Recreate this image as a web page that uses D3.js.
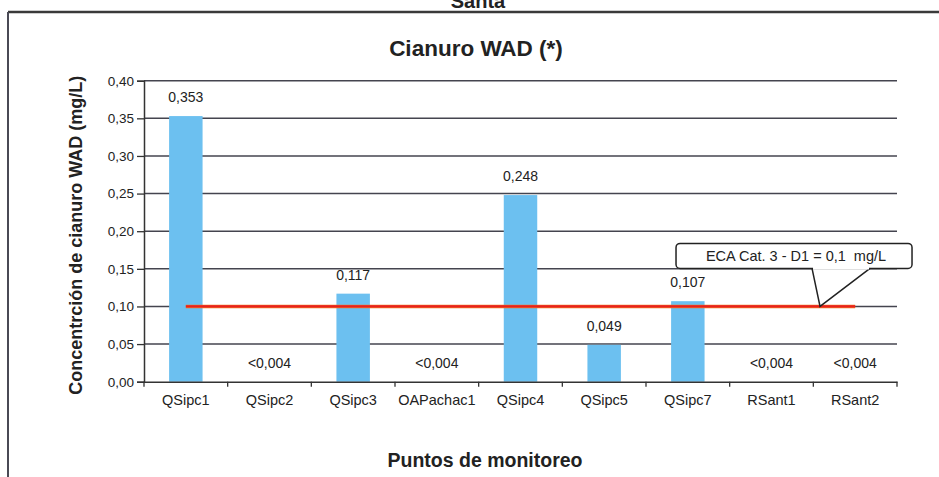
<!DOCTYPE html>
<html>
<head>
<meta charset="utf-8">
<script src="https://cdn.jsdelivr.net/npm/d3@7"></script>
<style>
  body { margin: 0; background: #fff; }
  svg { display: block; font-family: "Liberation Sans", Arial, sans-serif; }
</style>
</head>
<body>
<div id="chart"></div>
<script>
const categories = ['QSipc1', 'QSipc2', 'QSipc3', 'OAPachac1', 'QSipc4', 'QSipc5', 'QSipc7', 'RSant1', 'RSant2'];
const values = [0.353, 0, 0.117, 0, 0.248, 0.049, 0.107, 0, 0];
const valueLabels = ['0,353', '<0,004', '0,117', '<0,004', '0,248', '0,049', '0,107', '<0,004', '<0,004'];
const yTicks = [0, 0.05, 0.10, 0.15, 0.20, 0.25, 0.30, 0.35, 0.40];
const limit = 0.1;
const limitText = 'ECA Cat. 3 - D1 = 0,1  mg/L';

const W = 939, H = 477;
const margin = { top: 80.7, right: 42, bottom: 95.3, left: 144 };
const width = W - margin.left - margin.right,
  height = H - margin.top - margin.bottom;

const svg = d3.select('#chart').append('svg')
  .attr('width', W)
  .attr('height', H);

// page frame and the heading cut off at the top
svg.append('text')
  .attr('x', 478).attr('y', 8)
  .attr('text-anchor', 'middle')
  .attr('font-size', 20).attr('font-weight', 'bold')
  .attr('fill', '#222')
  .text('Santa');
svg.append('line')
  .attr('x1', 8).attr('x2', W).attr('y1', 12).attr('y2', 12)
  .attr('stroke', '#3a3a3a').attr('stroke-width', 2.5);
svg.append('line')
  .attr('x1', 8).attr('x2', 8).attr('y1', 12).attr('y2', H)
  .attr('stroke', '#4a4a55').attr('stroke-width', 2);

svg.append('text')
  .attr('x', 476).attr('y', 56)
  .attr('text-anchor', 'middle')
  .attr('font-size', 22.5).attr('font-weight', 'bold')
  .attr('fill', '#222')
  .text('Cianuro WAD (*)');

const g = svg.append('g')
  .attr('transform', `translate(${margin.left}, ${margin.top})`);

const x = d3.scaleBand()
  .domain(categories)
  .range([0, width])
  .paddingInner(0.6).paddingOuter(0.3);
const y = d3.scaleLinear()
  .domain([0, 0.4])
  .range([height, 0]);

const step = x.step();
const cx = d => x(d) + x.bandwidth() / 2;

// gridlines
g.selectAll('.grid')
  .data(yTicks.filter(t => t > 0))
  .enter().append('line')
  .attr('x1', 0).attr('x2', width)
  .attr('y1', d => y(d)).attr('y2', d => y(d))
  .attr('stroke', '#44444f').attr('stroke-width', 1.5);

// bars
g.selectAll('.bar')
  .data(values)
  .enter().append('rect')
  .attr('class', 'bar')
  .attr('x', (d, i) => x(categories[i]))
  .attr('y', d => y(d))
  .attr('width', x.bandwidth())
  .attr('height', d => height - y(d))
  .attr('fill', '#6cc0f0');

// limit line
g.append('line')
  .attr('x1', cx(categories[0]))
  .attr('x2', cx(categories[categories.length - 1]))
  .attr('y1', y(limit)).attr('y2', y(limit))
  .attr('stroke', '#f07a20').attr('stroke-width', 3.4);
g.append('line')
  .attr('x1', cx(categories[0]))
  .attr('x2', cx(categories[categories.length - 1]))
  .attr('y1', y(limit)).attr('y2', y(limit))
  .attr('stroke', '#e8201e').attr('stroke-width', 2.2);

// value labels
g.selectAll('.label')
  .data(values)
  .enter().append('text')
  .attr('x', (d, i) => cx(categories[i]))
  .attr('y', d => y(d) - 14)
  .attr('text-anchor', 'middle')
  .attr('font-size', 14)
  .attr('fill', '#222')
  .text((d, i) => valueLabels[i]);

// axes
const yAxis = g.append('g')
  .call(d3.axisLeft(y).tickValues(yTicks).tickSize(7).tickPadding(3)
    .tickFormat(d => d3.format('.2f')(d).replace('.', ',')));
yAxis.select('.domain').attr('stroke', '#333').attr('stroke-width', 1.5);
yAxis.selectAll('.tick line').attr('stroke', '#333').attr('stroke-width', 1.3);
yAxis.selectAll('.tick text').attr('font-size', 13.5).attr('fill', '#222')
  .attr('font-family', '"Liberation Sans", Arial, sans-serif');

const xAxis = g.append('g')
  .attr('transform', `translate(0, ${height})`)
  .call(d3.axisBottom(x).tickSize(0).tickPadding(13));
xAxis.select('.domain').attr('stroke', '#333').attr('stroke-width', 1.5);
xAxis.selectAll('.tick text').attr('font-size', 14.5).attr('fill', '#222')
  .attr('font-family', '"Liberation Sans", Arial, sans-serif');
// tick marks between categories
g.selectAll('.xsep')
  .data(d3.range(categories.length + 1))
  .enter().append('line')
  .attr('x1', i => i * step).attr('x2', i => i * step)
  .attr('y1', height).attr('y2', height + 5)
  .attr('stroke', '#333').attr('stroke-width', 1.3);

// axis titles
svg.append('text')
  .attr('transform', `translate(82, ${margin.top + height / 2 + 4}) rotate(-90)`)
  .attr('text-anchor', 'middle')
  .attr('font-size', 18).attr('font-weight', 'bold')
  .attr('fill', '#222')
  .text('Concentrción de cianuro WAD (mg/L)');
svg.append('text')
  .attr('x', 485).attr('y', 467)
  .attr('text-anchor', 'middle')
  .attr('font-size', 19.5).attr('font-weight', 'bold')
  .attr('fill', '#222')
  .text('Puntos de monitoreo');

// callout for the limit
const ax = cx('RSant1') + step * 0.58, ay = y(limit);
const box = { x: ax - 144, y: ay - 63, w: 236, h: 25 };
const callout = g.append('g');
callout.append('path')
  .attr('d', `M${ax - 8},${box.y + box.h} L${ax},${ay} L${ax + 50},${box.y + box.h}`)
  .attr('fill', '#fff').attr('stroke', '#222').attr('stroke-width', 1.5);
callout.append('rect')
  .attr('x', box.x).attr('y', box.y)
  .attr('width', box.w).attr('height', box.h)
  .attr('rx', 4)
  .attr('fill', '#fff').attr('stroke', '#222').attr('stroke-width', 1.5);
callout.append('rect')
  .attr('x', ax - 7).attr('y', box.y + box.h - 1.5)
  .attr('width', 56).attr('height', 2.5)
  .attr('fill', '#fff');
callout.append('text')
  .attr('x', box.x + box.w / 2 + 2).attr('y', box.y + 18)
  .attr('text-anchor', 'middle')
  .attr('font-size', 14.5).attr('fill', '#222')
  .style('white-space', 'pre')
  .text(limitText);
</script>
</body>
</html>
